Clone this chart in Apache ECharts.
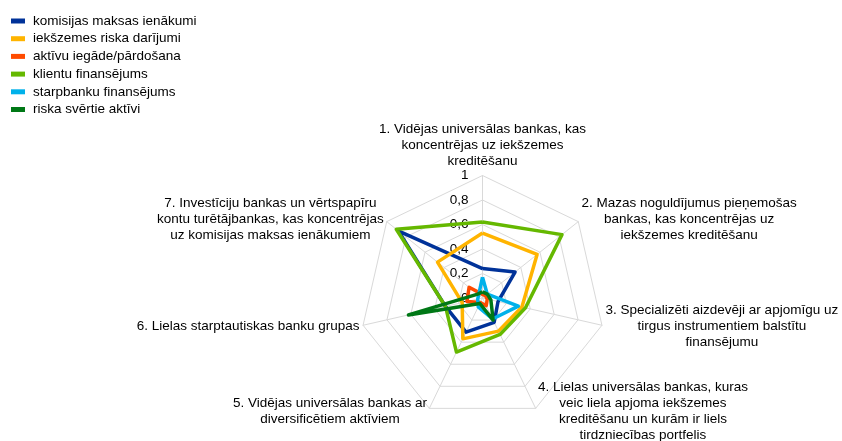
<!DOCTYPE html>
<html>
<head>
<meta charset="utf-8">
<script src="https://cdn.jsdelivr.net/npm/echarts@6/dist/echarts.min.js"></script>
<style>
html, body { margin: 0; padding: 0; background: #fff; }
#main { width: 842px; height: 441px; }
</style>
</head>
<body>
<div id="main"></div>
<script>
// banku grupas (ass nosaukumi)
var groups = [
    '1. Vidējas universālas bankas, kas\nkoncentrējas uz iekšzemes\nkreditēšanu',
    '2. Mazas noguldījumus pieņemošas\nbankas, kas koncentrējas uz\niekšzemes kreditēšanu',
    '3. Specializēti aizdevēji ar apjomīgu uz\ntirgus instrumentiem balstītu\nfinansējumu',
    '4. Lielas universālas bankas, kuras\nveic liela apjoma iekšzemes\nkreditēšanu un kurām ir liels\ntirdzniecības portfelis',
    '5. Vidējas universālas bankas ar\ndiversificētiem aktīviem',
    '6. Lielas starptautiskas banku grupas',
    '7. Investīciju bankas un vērtspapīru\nkontu turētājbankas, kas koncentrējas\nuz komisijas maksas ienākumiem'
];
var seriesNames = ['komisijas maksas ienākumi', 'iekšzemes riska darījumi', 'aktīvu iegāde/pārdošana',
    'klientu finansējums', 'starpbanku finansējums', 'riska svērtie aktīvi'];

// vērtības pa grupām 1..7
var komisijas = [0.24, 0.34, 0.13, 0.22, 0.31, 0.31, 0.88];
var iekszemes = [0.53, 0.57, 0.33, 0.30, 0.37, 0.17, 0.47];
var aktivu = [0.03, 0.03, 0.04, 0.07, 0.04, 0.13, 0.14];
var klientu = [0.62, 0.83, 0.36, 0.33, 0.49, 0.31, 0.90];
var starpbanku = [0.17, 0.05, 0.30, 0.19, 0.08, 0.04, 0.04];
var riska = [0.05, 0.05, 0.07, 0.20, 0.05, 0.62, 0.05];

var tickLabels = ['0', '0,2', '0,4', '0,6', '0,8', '1'];

var colors = ['#003299', '#FFB400', '#FF4B00', '#65B800', '#00B1EA', '#007816'];
var font = 'Liberation Sans, Arial, sans-serif';
var fs = 13.5;

// echarts radar iet pretēji pulksteņrādītājam, tāpēc secība 1,7,6,5,4,3,2
var order = [0, 6, 5, 4, 3, 2, 1];
function reorder(arr) {
    return order.map(function (i) { return arr[i]; });
}

// teksta platums, lai rindas centrētu blokā
var ctx = document.createElement('canvas').getContext('2d');
ctx.font = fs + 'px ' + font;
var rich = {};
groups.forEach(function (g, i) {
    var w = 0;
    g.split('\n').forEach(function (line) {
        w = Math.max(w, ctx.measureText(line).width);
    });
    rich['g' + i] = { width: Math.ceil(w) + 1, align: 'center', lineHeight: 16, fontSize: fs, color: '#000', fontFamily: font };
});

var indicator = reorder(groups).map(function (g, k) {
    var ind = { name: g, min: 0, max: 1 };
    if (k === 0) {
        ind.axisLabel = { show: true };
    }
    return ind;
});

var allData = [komisijas, iekszemes, aktivu, klientu, starpbanku, riska];
var series = allData.map(function (d, i) {
    return {
        name: seriesNames[i],
        type: 'radar',
        symbol: 'none',
        lineStyle: { width: 3.5, color: colors[i] },
        itemStyle: { color: colors[i] },
        z: 2 + i,
        data: [{ value: reorder(d), name: seriesNames[i] }]
    };
});

var chart = echarts.init(document.getElementById('main'));
var option = {
    backgroundColor: '#fff',
    animation: false,
    color: colors,
    textStyle: { fontFamily: font },
    legend: {
        orient: 'vertical',
        left: 11,
        top: 14,
        padding: 0,
        itemWidth: 14,
        itemHeight: 5,
        itemGap: 3.7,
        icon: 'rect',
        data: seriesNames,
        textStyle: { fontSize: fs, color: '#000', fontFamily: font, padding: [0, 0, 0, 3] }
    },
    radar: {
        center: [482.5, 298],
        radius: 122.5,
        shape: 'polygon',
        splitNumber: 5,
        nameGap: 3,
        indicator: indicator,
        axisName: {
            formatter: function (name) {
                var idx = groups.indexOf(name);
                return name.split('\n').map(function (line) {
                    return '{g' + idx + '|' + line + '}';
                }).join('\n');
            },
            rich: rich,
            color: '#000',
            fontSize: fs,
            fontFamily: font
        },
        axisLine: { lineStyle: { color: '#d9d9d9', width: 1 } },
        splitLine: { lineStyle: { color: '#d9d9d9', width: 1 } },
        splitArea: { show: false },
        axisTick: { show: false },
        axisLabel: {
            show: false,
            margin: 14,
            fontSize: fs,
            color: '#000',
            fontFamily: font,
            formatter: function (v) {
                return tickLabels[Math.round(v / 0.2)];
            }
        }
    },
    series: series
};
chart.setOption(option);
</script>
</body>
</html>
